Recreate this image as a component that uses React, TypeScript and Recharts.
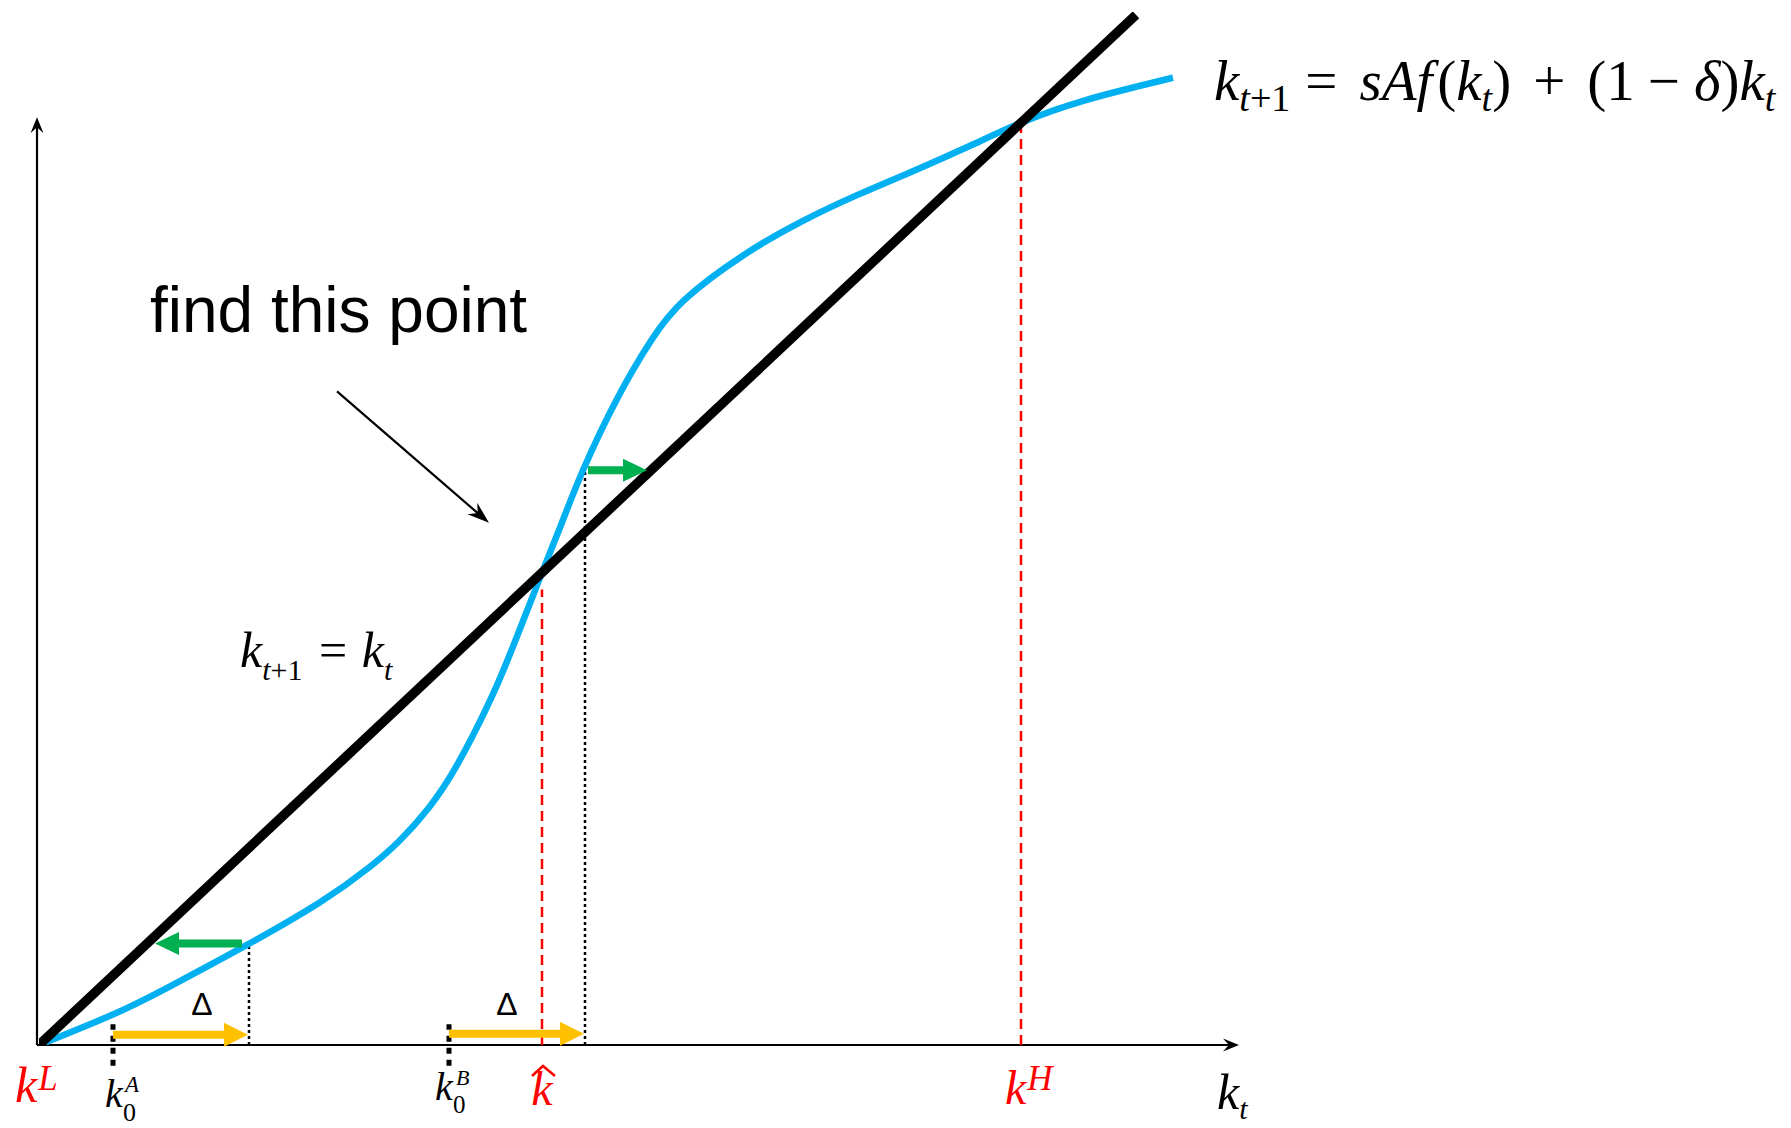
import React from "react"
import { ComposedChart, Line, XAxis, YAxis, ReferenceLine, ReferenceDot } from "recharts"

// S-shaped accumulation curve: k_t against k_{t+1}
const kt = [0, 0.75, 1.32, 2.07, 2.81, 3.3, 3.61, 3.9, 4.18, 4.52, 4.75, 4.92, 5.03, 5.21, 5.44, 5.78, 6.12, 6.46, 7.03, 7.61, 8.18, 8.75, 9.3, 9.82, 10.46, 11.34]
const kNext = [0, 0.33, 0.63, 1.06, 1.52, 1.89, 2.18, 2.53, 2.98, 3.69, 4.27, 4.73, 5.03, 5.51, 6.12, 6.88, 7.5, 7.94, 8.4, 8.76, 9.05, 9.31, 9.57, 9.82, 10.06, 10.3]

// ends of the 45 degree line k_{t+1} = k_t
const diagonalEnds = [0, 10.97]

// steady states
const kLow = 0
const kHat = 5.03
const kHigh = 9.82

// two starting stocks, each pushed right by the same shift
const startK = [0.74, 4.1]
const shiftedK = [2.1, 5.46]
const shiftY = [0.11, 0.12]
const curveAtShifted = [1.06, 6.12]

// green arrows: height, tail, head
const greenY = [1.08, 6.12]
const greenFrom = [2.03, 5.49]
const greenTo = [1.16, 6.08]

// pointer next to the "find this point" note
const pointerK = [2.98, 4.5]
const pointerNext = [6.96, 5.56]

const curveData = kt.map((k, i) => ({ k, next: kNext[i] }))
const diagonalData = diagonalEnds.map((k) => ({ k, next: k }))

const BLUE = "#00B0F0"
const GREEN = "#00B050"
const YELLOW = "#FFC000"
const RED = "#FF0000"
const SERIF = "'Liberation Serif', 'Times New Roman', serif"
const SANS = "'Liberation Sans', Arial, sans-serif"

type Seg = { x1?: number | string; y1?: number | string; x2?: number | string; y2?: number | string }

// filled arrow along a reference segment, head at (x2, y2)
const arrow = (color: string, shaft: number, headW: number, headL: number, notch = 0) => (p: Seg) => {
  const x1 = Number(p.x1), y1 = Number(p.y1), x2 = Number(p.x2), y2 = Number(p.y2)
  const len = Math.hypot(x2 - x1, y2 - y1) || 1
  const ux = (x2 - x1) / len, uy = (y2 - y1) / len
  const nx = -uy, ny = ux
  const bx = x2 - ux * headL, by = y2 - uy * headL
  const mx = bx + ux * notch, my = by + uy * notch
  const pts = [
    [x1 + (nx * shaft) / 2, y1 + (ny * shaft) / 2],
    [mx + (nx * shaft) / 2, my + (ny * shaft) / 2],
    [bx + (nx * headW) / 2, by + (ny * headW) / 2],
    [x2, y2],
    [bx - (nx * headW) / 2, by - (ny * headW) / 2],
    [mx - (nx * shaft) / 2, my - (ny * shaft) / 2],
    [x1 - (nx * shaft) / 2, y1 - (ny * shaft) / 2],
  ]
  return <polygon points={pts.map((q) => q.join(",")).join(" ")} fill={color} />
}

type Pt = { cx?: number; cy?: number }

export default function App() {
  return (
    <div style={{ position: "absolute", left: 0, top: 0, width: 1791, height: 1128, background: "#fff" }}>
      <ComposedChart width={1791} height={1128} margin={{ top: 12, right: 552, bottom: 83, left: 39 }}>
        <XAxis type="number" dataKey="k" domain={[0, 12]} allowDataOverflow hide />
        <YAxis type="number" domain={[0, 11]} allowDataOverflow hide />

        {/* axes with arrow heads */}
        <ReferenceLine segment={[{ x: -0.02, y: 0 }, { x: 12, y: 0 }]} ifOverflow="visible" shape={arrow("#000", 2.2, 13, 16, 5)} />
        <ReferenceLine segment={[{ x: -0.02, y: 0 }, { x: -0.02, y: 9.88 }]} ifOverflow="visible" shape={arrow("#000", 2.2, 13, 16, 5)} />

        {/* steady states */}
        <ReferenceLine segment={[{ x: kHat, y: 0 }, { x: kHat, y: 4.85 }]} ifOverflow="visible" stroke={RED} strokeWidth={2.5} strokeDasharray="10 6" />
        <ReferenceLine segment={[{ x: kHigh, y: 0 }, { x: kHigh, y: kHigh }]} ifOverflow="visible" stroke={RED} strokeWidth={2.5} strokeDasharray="10 6" />

        {/* shifted stocks, read up to the curve */}
        {shiftedK.map((k, i) => (
          <ReferenceLine key={"d" + i} segment={[{ x: k, y: 0 }, { x: k, y: curveAtShifted[i] }]} ifOverflow="visible" stroke="#000" strokeWidth={2.5} strokeDasharray="3 3" />
        ))}

        {/* starting stocks */}
        {startK.map((k, i) => (
          <ReferenceLine key={"s" + i} segment={[{ x: k, y: -0.22 }, { x: k, y: 0.22 }]} ifOverflow="visible" stroke="#000" strokeWidth={5} strokeDasharray="6 6" />
        ))}

        <Line data={curveData} dataKey="next" type="natural" stroke={BLUE} strokeWidth={6.5} dot={false} activeDot={false} isAnimationActive={false} />
        <Line data={diagonalData} dataKey="next" type="linear" stroke="#000" strokeWidth={9.5} dot={false} activeDot={false} isAnimationActive={false} />

        {startK.map((k, i) => (
          <ReferenceLine key={"y" + i} segment={[{ x: k, y: shiftY[i] }, { x: shiftedK[i] - 0.01, y: shiftY[i] }]} ifOverflow="visible" shape={arrow(YELLOW, 8, 24, 24)} />
        ))}
        {greenY.map((y, i) => (
          <ReferenceLine key={"g" + i} segment={[{ x: greenFrom[i], y }, { x: greenTo[i], y }]} ifOverflow="visible" shape={arrow(GREEN, 8, 23, 24)} />
        ))}
        <ReferenceLine
          segment={[{ x: pointerK[0], y: pointerNext[0] }, { x: pointerK[1], y: pointerNext[1] }]}
          ifOverflow="visible"
          shape={arrow("#000", 2.2, 15, 22, 6)}
        />

        {/* notes and formulas */}
        <ReferenceDot x={1.11} y={7.59} ifOverflow="visible" shape={(p: Pt) => (
          <text x={p.cx} y={p.cy} fontFamily={SANS} fontSize={64} fill="#000">find this point</text>
        )} />
        <ReferenceDot x={2.01} y={4.03} ifOverflow="visible" shape={(p: Pt) => (
          <text x={p.cx} y={p.cy} fontFamily={SERIF} fontSize={50} fill="#000">
            <tspan fontStyle="italic">k</tspan>
            <tspan fontSize={30} dy={13} fontStyle="italic">t</tspan>
            <tspan fontSize={30}>+1</tspan>
            <tspan dx={4} dy={-13}> = </tspan>
            <tspan dx={2} fontStyle="italic">k</tspan>
            <tspan fontSize={30} dy={13} fontStyle="italic">t</tspan>
          </text>
        )} />
        <ReferenceDot x={11.75} y={10.06} ifOverflow="visible" shape={(p: Pt) => (
          <text x={p.cx} y={p.cy} fontFamily={SERIF} fontSize={57} fill="#000">
            <tspan fontStyle="italic">k</tspan>
            <tspan fontSize={38} dy={11} fontStyle="italic">t</tspan>
            <tspan fontSize={38}>+1</tspan>
            <tspan dx={15} dy={-11}>=</tspan>
            <tspan dx={22} fontStyle="italic">sAf</tspan>
            <tspan dx={5}>(</tspan>
            <tspan fontStyle="italic">k</tspan>
            <tspan fontSize={38} dy={11} fontStyle="italic">t</tspan>
            <tspan dy={-11}>)</tspan>
            <tspan dx={22}>+</tspan>
            <tspan dx={22}>(1</tspan>
            <tspan dx={13}>−</tspan>
            <tspan dx={14} fontStyle="italic">δ</tspan>
            <tspan>)</tspan>
            <tspan fontStyle="italic">k</tspan>
            <tspan fontSize={38} dy={11} fontStyle="italic">t</tspan>
          </text>
        )} />

        {/* Δ over each shift */}
        <ReferenceDot x={1.63} y={0.32} ifOverflow="visible" shape={(p: Pt) => (
          <text x={p.cx} y={p.cy} textAnchor="middle" fontFamily={SANS} fontSize={32} fill="#000">Δ</text>
        )} />
        <ReferenceDot x={4.68} y={0.32} ifOverflow="visible" shape={(p: Pt) => (
          <text x={p.cx} y={p.cy} textAnchor="middle" fontFamily={SANS} fontSize={32} fill="#000">Δ</text>
        )} />

        {/* axis labels */}
        <ReferenceDot x={kLow} y={0} ifOverflow="visible" shape={(p: Pt) => (
          <text x={Number(p.cx) - 24} y={Number(p.cy) + 57} fontFamily={SERIF} fontSize={50} fontStyle="italic" fill={RED}>
            k<tspan fontSize={35} dx={1} dy={-12}>L</tspan>
          </text>
        )} />
        <ReferenceDot x={startK[0]} y={0} ifOverflow="visible" shape={(p: Pt) => {
          const cx = Number(p.cx), cy = Number(p.cy)
          return (
            <g fontFamily={SERIF} fill="#000">
              <text x={cx - 8} y={cy + 62} fontSize={40} fontStyle="italic">k</text>
              <text x={cx + 12} y={cy + 47} fontSize={23} fontStyle="italic">A</text>
              <text x={cx + 10} y={cy + 76} fontSize={26}>0</text>
            </g>
          )
        }} />
        <ReferenceDot x={startK[1]} y={0} ifOverflow="visible" shape={(p: Pt) => {
          const cx = Number(p.cx), cy = Number(p.cy)
          return (
            <g fontFamily={SERIF} fill="#000">
              <text x={cx - 14} y={cy + 55} fontSize={40} fontStyle="italic">k</text>
              <text x={cx + 7} y={cy + 40} fontSize={22} fontStyle="italic">B</text>
              <text x={cx + 4} y={cy + 68} fontSize={25}>0</text>
            </g>
          )
        }} />
        <ReferenceDot x={kHat} y={0} ifOverflow="visible" shape={(p: Pt) => {
          const cx = Number(p.cx), cy = Number(p.cy)
          return (
            <g>
              <text x={cx} y={cy + 60} textAnchor="middle" fontFamily={SERIF} fontSize={48} fontStyle="italic" fill={RED}>k</text>
              <polyline points={`${cx - 10},${cy + 31} ${cx + 1},${cy + 21} ${cx + 13},${cy + 31}`} fill="none" stroke={RED} strokeWidth={2.5} />
            </g>
          )
        }} />
        <ReferenceDot x={kHigh} y={0} ifOverflow="visible" shape={(p: Pt) => (
          <text x={Number(p.cx) - 16} y={Number(p.cy) + 59} fontFamily={SERIF} fontSize={48} fontStyle="italic" fill={RED}>
            k<tspan fontSize={35} dx={1} dy={-14}>H</tspan>
          </text>
        )} />
        <ReferenceDot x={12} y={0} ifOverflow="visible" shape={(p: Pt) => (
          <text x={Number(p.cx) - 22} y={Number(p.cy) + 64} fontFamily={SERIF} fontSize={50} fontStyle="italic" fill="#000">
            k<tspan fontSize={30} dy={10}>t</tspan>
          </text>
        )} />
      </ComposedChart>
    </div>
  )
}
